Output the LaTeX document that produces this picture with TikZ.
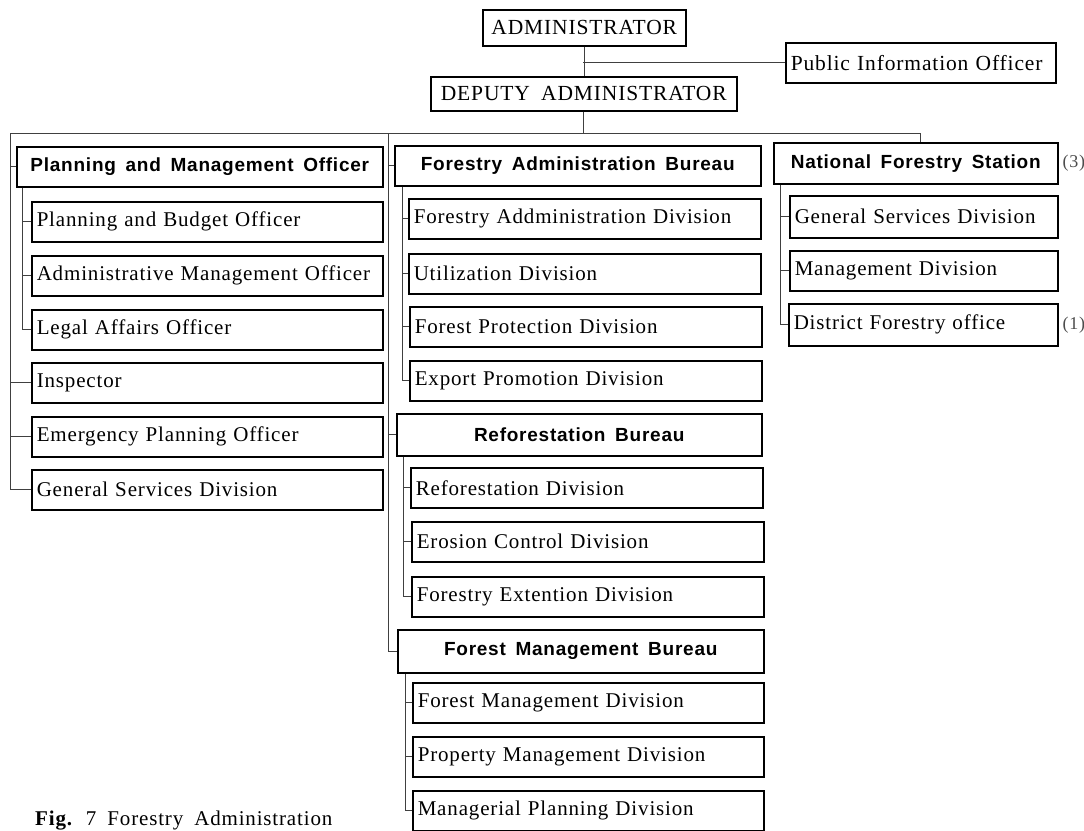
\documentclass[tikz,border=0pt]{standalone}
\usepackage{fontspec}
\usetikzlibrary{calc}
\newfontfamily\labfont{Liberation Serif}[LetterSpace=4,WordSpace=1.8]
\newfontfamily\hdrfont{Liberation Sans}[LetterSpace=4,WordSpace=1.6]
\begin{document}
\begin{tikzpicture}[x=1pt,y=-1pt,
  box/.style={draw, line width=1.5pt, anchor=north west, inner xsep=5pt, inner ysep=0pt},
  unit/.style={box, font=\labfont\fontsize{21}{23}\selectfont, align=left,
               text width=#1, minimum height=40pt},
  head/.style={box, font=\hdrfont\bfseries\fontsize{19}{21}\selectfont, align=center,
               minimum width=#1, minimum height=40pt},
  top/.style={box, font=\labfont\fontsize{21.5}{23}\selectfont, align=center,
              minimum width=#1, minimum height=36pt},
  conn/.style={line width=0.8pt, black!75},
  note/.style={anchor=west, font=\labfont\fontsize{18}{20}\selectfont, text=black!70, inner sep=0pt}
]
\useasboundingbox (0,0) rectangle (1084,830);

% --- top of the organisation
\node[top=203] (admin) at (482,9) {ADMINISTRATOR};
\node[top=306, minimum height=34pt] (deputy) at (430,76) {DEPUTY ADMINISTRATOR};
\node[box, font=\labfont\fontsize{21.5}{23}\selectfont, align=left, text width=260pt,
      minimum height=40pt] (pio) at (785,42) {Public Information Officer};

% --- left column
\node[head=366] (pmo) at (16,146) {Planning and Management Officer};
\node[unit=341pt] (pbo) at (31,201) {Planning and Budget Officer};
\node[unit=341pt] (amo) at (31,255) {\mbox{Administrative Management Officer}};
\node[unit=341pt] (lao) at (31,309) {Legal Affairs Officer};
\node[unit=341pt] (insp) at (31,362) {Inspector};
\node[unit=341pt] (epo) at (31,416) {Emergency Planning Officer};
\node[unit=341pt] (gsd) at (31,469) {General Services Division};

% --- middle column
\node[head=366] (fab) at (394,145) {Forestry Administration Bureau};
\node[unit=342pt] (fad) at (408,198) {Forestry Addministration Division};
\node[unit=342pt] (util) at (408,253) {Utilization Division};
\node[unit=342pt] (fpd) at (409,306) {Forest Protection Division};
\node[unit=342pt] (epd) at (409,360) {Export Promotion Division};
\node[head=365, minimum height=42pt] (rb) at (396,413) {Reforestation Bureau};
\node[unit=342pt] (rd) at (410,467) {Reforestation Division};
\node[unit=342pt] (ecd) at (411,521) {Erosion Control Division};
\node[unit=342pt] (fed) at (411,576) {Forestry Extention Division};
\node[head=366, minimum height=43pt] (fmb) at (397,629) {Forest Management Bureau};
\node[unit=341pt] (fmd) at (412,682) {Forest Management Division};
\node[unit=341pt] (pmd) at (412,736) {Property Management Division};
\node[unit=341pt] (mpd) at (412,790) {Managerial Planning Division};

% --- right column
\node[head=284, minimum height=41pt] (nfs) at (773,142) {National Forestry Station};
\node[unit=258pt, minimum height=42pt] (gsr) at (789,195) {General Services Division};
\node[unit=258pt] (mgd) at (789,250) {Management Division};
\node[unit=259pt, minimum height=42pt] (dfo) at (788,303) {District Forestry office};
\node[note] (n3) at ([xshift=4pt]nfs.east) {(3)};
\node[note] (n1) at ([xshift=4pt]dfo.east) {(1)};

% --- caption
\node[anchor=base west, inner sep=0pt, font=\labfont\fontsize{21}{23}\selectfont]
  (cap) at (35,825) {\textbf{Fig.} 7 Forestry Administration};

% --- connectors
\coordinate (pj) at (583,62);
\coordinate (busL) at (10,133);
\coordinate (busR) at (920,133);
\coordinate (midT) at (388,133);
\coordinate (pmoT) at ([xshift=6pt]pmo.south west);
\coordinate (fabT) at ([xshift=8pt]fab.south west);
\coordinate (rbT) at ([xshift=7pt]rb.south west);
\coordinate (fmbT) at ([xshift=8pt]fmb.south west);
\coordinate (nfsT) at ([xshift=7pt]nfs.south west);

\draw[conn] (admin.south) -- (admin.south |- deputy.north);
\draw[conn] (pj) -- (pj -| pio.west);
\draw[conn] (deputy.south) -- (deputy.south |- busL);
\draw[conn] (busL) -- (busR);
\draw[conn] (busR) -- (busR |- nfs.north);

% left branch
\draw[conn] (busL) |- (gsd.west);
\draw[conn] (pmo.west -| busL) -- (pmo.west);
\draw[conn] (insp.west -| busL) -- (insp.west);
\draw[conn] (epo.west -| busL) -- (epo.west);
\draw[conn] (pmoT) |- (lao.west);
\draw[conn] (pbo.west -| pmoT) -- (pbo.west);
\draw[conn] (amo.west -| pmoT) -- (amo.west);

% middle branch
\draw[conn] (midT) |- (fmb.west);
\draw[conn] (fab.west -| midT) -- (fab.west);
\draw[conn] (rb.west -| midT) -- (rb.west);
\draw[conn] (fabT) |- (epd.west);
\draw[conn] (fad.west -| fabT) -- (fad.west);
\draw[conn] (util.west -| fabT) -- (util.west);
\draw[conn] (fpd.west -| fabT) -- (fpd.west);
\draw[conn] (rbT) |- (fed.west);
\draw[conn] (rd.west -| rbT) -- (rd.west);
\draw[conn] (ecd.west -| rbT) -- (ecd.west);
\draw[conn] (fmbT) |- (mpd.west);
\draw[conn] (fmd.west -| fmbT) -- (fmd.west);
\draw[conn] (pmd.west -| fmbT) -- (pmd.west);

% right branch
\draw[conn] (nfsT) |- (dfo.west);
\draw[conn] (gsr.west -| nfsT) -- (gsr.west);
\draw[conn] (mgd.west -| nfsT) -- (mgd.west);
\end{tikzpicture}
\end{document}
